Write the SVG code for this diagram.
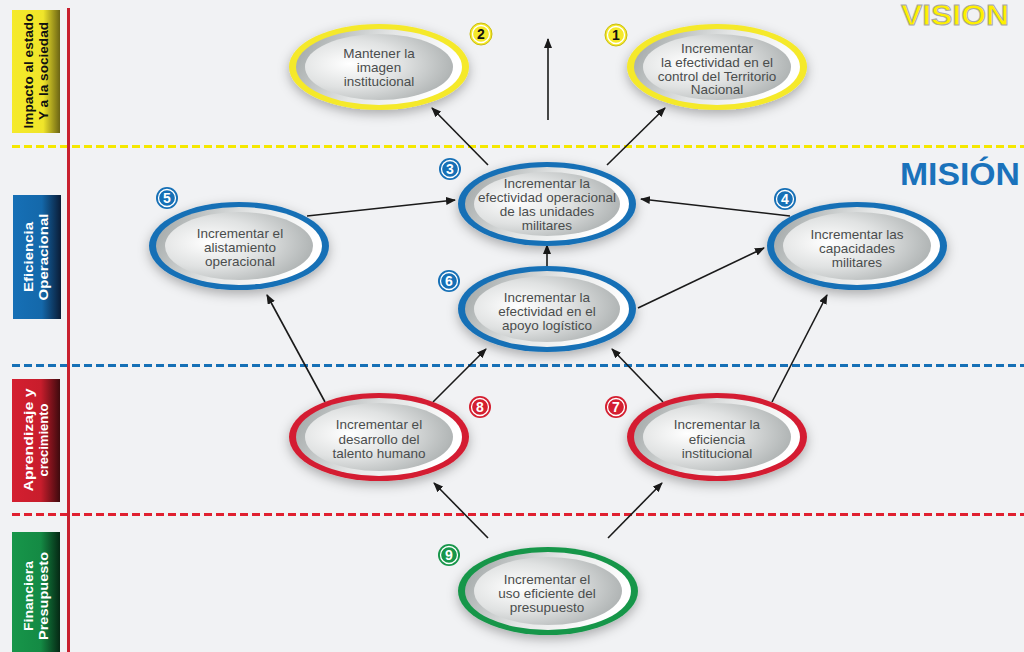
<svg xmlns="http://www.w3.org/2000/svg" width="1024" height="652" viewBox="0 0 1024 652">
<style>
.lbl{font-family:"Liberation Sans",Arial,sans-serif;font-weight:bold;font-size:13.5px;text-anchor:middle}
.nt{font-family:"Liberation Sans",Arial,sans-serif;font-size:13.5px;fill:#4a4d4d;text-anchor:middle}
.bn{font-family:"Liberation Sans",Arial,sans-serif;font-size:14px;font-weight:bold;text-anchor:middle}
.mid{fill:url(#ring)}
.inner{fill:url(#core)}
.con{stroke:#1a1a1a;stroke-width:1.6;fill:none;marker-end:url(#ah)}
.dash{stroke-width:3;stroke-dasharray:8 4;fill:none}
.ring{fill:none;stroke:#fff;stroke-width:1.3}
</style>
<defs>
<linearGradient id="ring" x1="0" y1="0" x2="1" y2="0.3">
<stop offset="0" stop-color="#9aa0a0"/><stop offset="0.55" stop-color="#e4e6e6"/><stop offset="1" stop-color="#ffffff"/>
</linearGradient>
<radialGradient id="core" cx="0.3" cy="0.45" r="0.8">
<stop offset="0" stop-color="#ffffff"/><stop offset="0.45" stop-color="#e0e2e2"/><stop offset="1" stop-color="#a3a8a8"/>
</radialGradient>
<linearGradient id="gy" x1="0" y1="0" x2="1" y2="0"><stop offset="0" stop-color="#f5ea2a"/><stop offset="0.65" stop-color="#f0e52a"/><stop offset="1" stop-color="#6b6414"/></linearGradient>
<linearGradient id="gb" x1="0" y1="0" x2="1" y2="0"><stop offset="0" stop-color="#1670b6"/><stop offset="0.6" stop-color="#1468aa"/><stop offset="1" stop-color="#0a1c36"/></linearGradient>
<linearGradient id="gr" x1="0" y1="0" x2="1" y2="0"><stop offset="0" stop-color="#d41f30"/><stop offset="0.6" stop-color="#c81d2c"/><stop offset="1" stop-color="#3e0a0e"/></linearGradient>
<linearGradient id="gg" x1="0" y1="0" x2="1" y2="0"><stop offset="0" stop-color="#17964a"/><stop offset="0.6" stop-color="#148a44"/><stop offset="1" stop-color="#052814"/></linearGradient>
<filter id="sh" x="-20%" y="-30%" width="140%" height="170%"><feDropShadow dx="0" dy="4" stdDeviation="6" flood-color="#000" flood-opacity="0.3"/></filter>
<marker id="ah" markerWidth="10" markerHeight="8" refX="9" refY="4" orient="auto" markerUnits="userSpaceOnUse"><path d="M0,0 L10,4 L0,8 Z" fill="#1a1a1a"/></marker>
</defs>
<rect width="1024" height="652" fill="#f1f2f4"/>

<g id="lanes">
<rect x="12" y="10" width="48" height="123" fill="url(#gy)"/>
<text class="lbl" fill="#111" transform="translate(33,71) rotate(-90)" textLength="115" lengthAdjust="spacingAndGlyphs">Impacto al estado</text>
<text class="lbl" fill="#111" transform="translate(48,71) rotate(-90)" textLength="98" lengthAdjust="spacingAndGlyphs">Y a la sociedad</text>
<rect x="13" y="195" width="48" height="124" fill="url(#gb)"/>
<text class="lbl" fill="#fff" transform="translate(33,257) rotate(-90)" textLength="70" lengthAdjust="spacingAndGlyphs">Eficiencia</text>
<text class="lbl" fill="#fff" transform="translate(48,257) rotate(-90)" textLength="87" lengthAdjust="spacingAndGlyphs">Operacional</text>
<rect x="12" y="379" width="48" height="123" fill="url(#gr)"/>
<text class="lbl" fill="#fff" transform="translate(33,440) rotate(-90)" textLength="103" lengthAdjust="spacingAndGlyphs">Aprendizaje y</text>
<text class="lbl" fill="#fff" transform="translate(48,440) rotate(-90)" textLength="73" lengthAdjust="spacingAndGlyphs">crecimiento</text>
<rect x="12" y="532" width="48" height="120" fill="url(#gg)"/>
<text class="lbl" fill="#fff" transform="translate(33,596) rotate(-90)" textLength="70" lengthAdjust="spacingAndGlyphs">Financiera</text>
<text class="lbl" fill="#fff" transform="translate(48,596) rotate(-90)" textLength="88" lengthAdjust="spacingAndGlyphs">Presupuesto</text>
<line class="dash" x1="12" y1="146.5" x2="1024" y2="146.5" stroke="#f5e800"/>
<line class="dash" x1="12" y1="365.5" x2="1024" y2="365.5" stroke="#1670b6"/>
<line class="dash" x1="12" y1="514.5" x2="1024" y2="514.5" stroke="#e02030"/>
<line x1="68.5" y1="8" x2="68.5" y2="652" stroke="#c8202e" stroke-width="3"/>
<text x="1009" y="25" font-family="'Liberation Sans',Arial,sans-serif" font-weight="bold" font-size="30" fill="#fff000" stroke="#a8a8a8" stroke-width="1" text-anchor="end" textLength="108" lengthAdjust="spacingAndGlyphs">VISION</text>
<text x="1020" y="185" font-family="'Liberation Sans',Arial,sans-serif" font-weight="bold" font-size="31" fill="#1a72bb" text-anchor="end" textLength="120" lengthAdjust="spacingAndGlyphs">MISIÓN</text>
</g>

<g id="connectors">
<line class="con" x1="548" y1="120" x2="548" y2="39"/>
<line class="con" x1="488" y1="165" x2="432" y2="108"/>
<line class="con" x1="607" y1="165" x2="665" y2="108"/>
<line class="con" x1="307" y1="216" x2="455" y2="200"/>
<line class="con" x1="790" y1="216" x2="641" y2="199"/>
<line class="con" x1="547" y1="266" x2="547" y2="245"/>
<line class="con" x1="638" y1="308" x2="764" y2="248"/>
<line class="con" x1="325" y1="402" x2="267" y2="295"/>
<line class="con" x1="433" y1="402" x2="486" y2="349"/>
<line class="con" x1="663" y1="402" x2="612" y2="349"/>
<line class="con" x1="772" y1="402" x2="827" y2="295"/>
<line class="con" x1="488" y1="538" x2="434" y2="483"/>
<line class="con" x1="608" y1="538" x2="662" y2="483"/>
</g>

<g id="n2">
<ellipse cx="379" cy="67" rx="90" ry="43" fill="#f5e92a" filter="url(#sh)"/>
<ellipse class="mid" cx="379" cy="67" rx="83" ry="38"/>
<ellipse class="inner" cx="379" cy="67" rx="74" ry="33"/>
<text class="nt" x="379" y="58">Mantener la</text>
<text class="nt" x="379" y="72">imagen</text>
<text class="nt" x="379" y="86">institucional</text>
<circle cx="481" cy="34" r="11" fill="#f5e92a" stroke="#c8bc10" stroke-width="1"/>
<circle class="ring" cx="481" cy="34" r="8.5"/>
<text class="bn" x="481" y="39" fill="#111">2</text>
</g>

<g id="n1">
<ellipse cx="717" cy="67" rx="90" ry="43" fill="#f5e92a" filter="url(#sh)"/>
<ellipse class="mid" cx="717" cy="67" rx="83" ry="38"/>
<ellipse class="inner" cx="717" cy="67" rx="74" ry="33"/>
<text class="nt" x="717" y="53">Incrementar</text>
<text class="nt" x="717" y="67">la efectividad en el</text>
<text class="nt" x="717" y="81">control del Territorio</text>
<text class="nt" x="717" y="94">Nacional</text>
<circle cx="616" cy="35" r="11" fill="#f5e92a" stroke="#c8bc10" stroke-width="1"/>
<circle class="ring" cx="616" cy="35" r="8.5"/>
<text class="bn" x="616" y="40" fill="#111">1</text>
</g>

<g id="n3">
<ellipse cx="547" cy="204" rx="89" ry="42" fill="#1670b6" filter="url(#sh)"/>
<ellipse class="mid" cx="547" cy="204" rx="82" ry="37"/>
<ellipse class="inner" cx="547" cy="204" rx="73" ry="32"/>
<text class="nt" x="547" y="188">Incrementar la</text>
<text class="nt" x="547" y="202">efectividad operacional</text>
<text class="nt" x="547" y="216">de las unidades</text>
<text class="nt" x="547" y="230">militares</text>
<circle cx="450" cy="169" r="11" fill="#1670b6"/>
<circle class="ring" cx="450" cy="169" r="8.5"/>
<text class="bn" x="450" y="174" fill="#fff">3</text>
</g>

<g id="n5">
<ellipse cx="239" cy="246" rx="90" ry="44" fill="#1670b6" filter="url(#sh)"/>
<ellipse class="mid" cx="239" cy="246" rx="83" ry="39"/>
<ellipse class="inner" cx="239" cy="246" rx="74" ry="34"/>
<text class="nt" x="240" y="238">Incrementar el</text>
<text class="nt" x="240" y="252">alistamiento</text>
<text class="nt" x="240" y="266">operacional</text>
<circle cx="167" cy="198" r="11" fill="#1670b6"/>
<circle class="ring" cx="167" cy="198" r="8.5"/>
<text class="bn" x="167" y="203" fill="#fff">5</text>
</g>

<g id="n4">
<ellipse cx="857" cy="246" rx="90" ry="44" fill="#1670b6" filter="url(#sh)"/>
<ellipse class="mid" cx="857" cy="246" rx="83" ry="39"/>
<ellipse class="inner" cx="857" cy="246" rx="74" ry="34"/>
<text class="nt" x="857" y="239">Incrementar las</text>
<text class="nt" x="857" y="253">capacidades</text>
<text class="nt" x="857" y="267">militares</text>
<circle cx="785" cy="199" r="11" fill="#1670b6"/>
<circle class="ring" cx="785" cy="199" r="8.5"/>
<text class="bn" x="785" y="204" fill="#fff">4</text>
</g>

<g id="n6">
<ellipse cx="547" cy="309" rx="89" ry="43" fill="#1670b6" filter="url(#sh)"/>
<ellipse class="mid" cx="547" cy="309" rx="82" ry="38"/>
<ellipse class="inner" cx="547" cy="309" rx="73" ry="33"/>
<text class="nt" x="547" y="302">Incrementar la</text>
<text class="nt" x="547" y="316">efectividad en el</text>
<text class="nt" x="547" y="330">apoyo logístico</text>
<circle cx="449" cy="281" r="11" fill="#1670b6"/>
<circle class="ring" cx="449" cy="281" r="8.5"/>
<text class="bn" x="449" y="286" fill="#fff">6</text>
</g>

<g id="n8">
<ellipse cx="379" cy="437" rx="90" ry="44" fill="#d41f30" filter="url(#sh)"/>
<ellipse class="mid" cx="379" cy="437" rx="83" ry="39"/>
<ellipse class="inner" cx="379" cy="437" rx="74" ry="34"/>
<text class="nt" x="379" y="429">Incrementar el</text>
<text class="nt" x="379" y="444">desarrollo del</text>
<text class="nt" x="379" y="458">talento humano</text>
<circle cx="480" cy="407" r="11" fill="#d41f30"/>
<circle class="ring" cx="480" cy="407" r="8.5"/>
<text class="bn" x="480" y="412" fill="#fff">8</text>
</g>

<g id="n7">
<ellipse cx="717" cy="437" rx="90" ry="44" fill="#d41f30" filter="url(#sh)"/>
<ellipse class="mid" cx="717" cy="437" rx="83" ry="39"/>
<ellipse class="inner" cx="717" cy="437" rx="74" ry="34"/>
<text class="nt" x="717" y="429">Incrementar la</text>
<text class="nt" x="717" y="444">eficiencia</text>
<text class="nt" x="717" y="458">institucional</text>
<circle cx="616" cy="407" r="11" fill="#d41f30"/>
<circle class="ring" cx="616" cy="407" r="8.5"/>
<text class="bn" x="616" y="412" fill="#fff">7</text>
</g>

<g id="n9">
<ellipse cx="548" cy="591" rx="90" ry="44" fill="#17964a" filter="url(#sh)"/>
<ellipse class="mid" cx="548" cy="591" rx="83" ry="39"/>
<ellipse class="inner" cx="548" cy="591" rx="74" ry="34"/>
<text class="nt" x="547" y="584">Incrementar el</text>
<text class="nt" x="547" y="598">uso eficiente del</text>
<text class="nt" x="547" y="612">presupuesto</text>
<circle cx="449" cy="555" r="11" fill="#17964a"/>
<circle class="ring" cx="449" cy="555" r="8.5"/>
<text class="bn" x="449" y="560" fill="#fff">9</text>
</g>
</svg>
